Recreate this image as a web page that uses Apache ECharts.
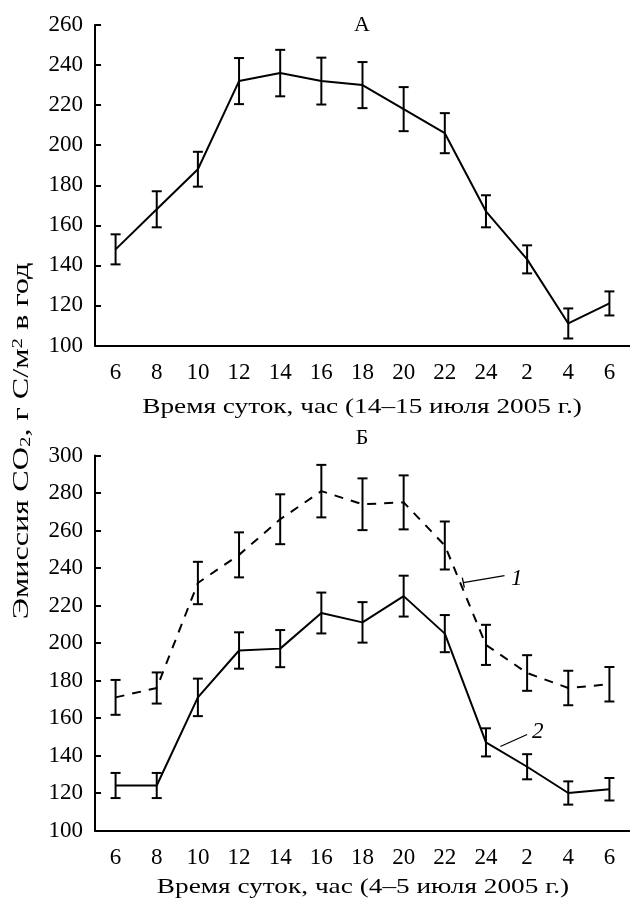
<!DOCTYPE html>
<html>
<head>
<meta charset="utf-8">
<script src="https://cdn.jsdelivr.net/npm/echarts@6/dist/echarts.min.js"></script>
<style>
html,body{margin:0;padding:0;background:#fff;}
#main{width:630px;height:899px;}
</style>
</head>
<body>
<div id="main"></div>
<script>
// часы суток (ось X)
var hours = ['6', '8', '10', '12', '14', '16', '18', '20', '22', '24', '2', '4', '6'];
// панель А
var meanA = [148, 168, 188, 232, 236, 232, 230, 218, 206, 167, 143, 111, 121];
var errA = [7.5, 9, 8.7, 11.5, 11.6, 11.7, 11.5, 11, 10, 8, 7, 7.5, 6];
// панель Б, кривая 1 (пунктир)
var mean1 = [171, 176, 232, 247, 266, 281, 274, 275, 252, 199, 184, 176, 178];
var err1 = [9.3, 8.3, 11.3, 12, 13.3, 14, 13.8, 14.4, 12.8, 10.7, 9.5, 9.2, 9.2];
// панель Б, кривая 2 (сплошная)
var mean2 = [124, 124, 171, 196, 197, 216, 211, 225, 205, 147, 134, 120, 122];
var err2 = [6.7, 6.7, 10, 9.7, 9.9, 10.9, 10.8, 10.9, 9.9, 7.5, 6.7, 6.2, 6];
// подписи осей
var ticksA = [100, 120, 140, 160, 180, 200, 220, 240, 260];
var ticksB = [100, 120, 140, 160, 180, 200, 220, 240, 260, 280, 300];

var FONT = '"Liberation Serif", "DejaVu Serif", serif';
var STRETCH = 1.24; // шрифт подписей осей в оригинале шире
var STRETCH_Y = 1.4;

function bars(mean, err) {
	return mean.map(function (m, i) { return [i, m - err[i], m + err[i]]; });
}

function errItem(params, api) {
	var lo = api.coord([api.value(0), api.value(1)]);
	var hi = api.coord([api.value(0), api.value(2)]);
	var w = 5;
	var st = { stroke: '#000', lineWidth: 2 };
	return {
		type: 'group',
		children: [
			{ type: 'line', shape: { x1: lo[0], y1: lo[1], x2: hi[0], y2: hi[1] }, style: st },
			{ type: 'line', shape: { x1: lo[0] - w, y1: lo[1], x2: lo[0] + w, y2: lo[1] }, style: st },
			{ type: 'line', shape: { x1: hi[0] - w, y1: hi[1], x2: hi[0] + w, y2: hi[1] }, style: st }
		]
	};
}

function xAx(idx) {
	return {
		type: 'category', gridIndex: idx, data: hours, boundaryGap: true,
		axisLine: { lineStyle: { color: '#000', width: 2 } },
		axisTick: { alignWithLabel: true, inside: true, length: 7, lineStyle: { color: '#000', width: 2 } },
		axisLabel: { fontFamily: FONT, fontSize: 23, color: '#000', margin: 16, interval: 0 },
		splitLine: { show: false }
	};
}

function yAx(idx, ticks) {
	return {
		type: 'value', gridIndex: idx, min: ticks[0], max: ticks[ticks.length - 1], interval: 20,
		axisLine: { show: true, lineStyle: { color: '#000', width: 2 } },
		axisTick: { show: true, inside: true, length: 6, lineStyle: { color: '#000', width: 2 } },
		axisLabel: { fontFamily: FONT, fontSize: 23, color: '#000', margin: 12 },
		splitLine: { show: false }
	};
}

var chart = echarts.init(document.getElementById('main'));
var option = {
	animation: false,
	backgroundColor: '#fff',
	textStyle: { fontFamily: FONT },
	title: [
		{ text: 'А', left: 362, top: 14, padding: 0, textAlign: 'center', textStyle: { fontFamily: FONT, fontSize: 22, fontWeight: 'normal', color: '#000' } },
		{ text: 'Б', left: 362, top: 427, padding: 0, textAlign: 'center', textStyle: { fontFamily: FONT, fontSize: 22, fontWeight: 'normal', color: '#000' } }
	],
	grid: [
		{ left: 95, top: 25, width: 537, height: 320.5 },
		{ left: 95, top: 455.5, width: 537, height: 375 }
	],
	xAxis: [xAx(0), xAx(1)],
	yAxis: [yAx(0, ticksA), yAx(1, ticksB)],
	series: [
		{ type: 'line', xAxisIndex: 0, yAxisIndex: 0, data: meanA, symbol: 'none',
			lineStyle: { color: '#000', width: 2 } },
		{ type: 'custom', xAxisIndex: 0, yAxisIndex: 0, data: bars(meanA, errA),
			encode: { x: 0, y: [1, 2] }, renderItem: errItem },
		{ type: 'line', xAxisIndex: 1, yAxisIndex: 1, data: mean1, symbol: 'none',
			lineStyle: { color: '#000', width: 2, type: [9, 8] } },
		{ type: 'custom', xAxisIndex: 1, yAxisIndex: 1, data: bars(mean1, err1),
			encode: { x: 0, y: [1, 2] }, renderItem: errItem },
		{ type: 'line', xAxisIndex: 1, yAxisIndex: 1, data: mean2, symbol: 'none',
			lineStyle: { color: '#000', width: 2 } },
		{ type: 'custom', xAxisIndex: 1, yAxisIndex: 1, data: bars(mean2, err2),
			encode: { x: 0, y: [1, 2] }, renderItem: errItem }
	]
};
chart.setOption(option);

// точка в пикселях по дробному индексу категории
function px(g, idx, val) {
	var i0 = Math.floor(idx);
	var a = chart.convertToPixel({ gridIndex: g }, [i0, val]);
	var b = chart.convertToPixel({ gridIndex: g }, [i0 + 1, val]);
	var t = idx - i0;
	return [a[0] + (b[0] - a[0]) * t, a[1]];
}

var s1 = px(1, 8.45, 232.2), e1 = px(1, 9.45, 235.9), t1 = px(1, 9.75, 234);
var s2 = px(1, 9.35, 144.8), e2 = px(1, 10.0, 151.2), t2 = px(1, 10.26, 152.5);
var lead = { stroke: '#000', lineWidth: 1.3 };
var italic = { fontFamily: FONT, fontSize: 23, fontStyle: 'italic', fill: '#000', align: 'center', verticalAlign: 'middle' };
var nameStyle = { fontFamily: FONT, fontSize: 22, fill: '#000', align: 'center', verticalAlign: 'middle' };

chart.setOption({
	graphic: [
		{ type: 'line', shape: { x1: s1[0], y1: s1[1], x2: e1[0], y2: e1[1] }, style: lead },
		{ type: 'line', shape: { x1: s1[0] - 1, y1: s1[1] - 5, x2: s1[0] + 1, y2: s1[1] + 5 }, style: lead },
		{ type: 'text', x: t1[0], y: t1[1], style: Object.assign({ text: '1' }, italic) },
		{ type: 'line', shape: { x1: s2[0], y1: s2[1], x2: e2[0], y2: e2[1] }, style: lead },
		{ type: 'text', x: t2[0], y: t2[1], style: Object.assign({ text: '2' }, italic) },
		{ type: 'text', x: 362, y: 407, scaleX: STRETCH,
			style: Object.assign({ text: 'Время суток, час (14–15 июля 2005 г.)' }, nameStyle) },
		{ type: 'text', x: 363, y: 887, scaleX: STRETCH,
			style: Object.assign({ text: 'Время суток, час (4–5 июля 2005 г.)' }, nameStyle) },
		{
			type: 'text', x: 22, y: 441, rotation: Math.PI / 2, scaleX: STRETCH_Y,
			style: {
				text: 'Эмиссия CO{sub|2}, г C/м{sup|2} в год',
				fontFamily: FONT, fontSize: 23, fill: '#000',
				align: 'center', verticalAlign: 'middle',
				rich: {
					sub: { fontFamily: FONT, fontSize: 15, fill: '#000', verticalAlign: 'bottom', padding: [8, 0, 0, 0] },
					sup: { fontFamily: FONT, fontSize: 15, fill: '#000', verticalAlign: 'top', padding: [0, 0, 8, 0] }
				}
			}
		}
	]
});
</script>
</body>
</html>
